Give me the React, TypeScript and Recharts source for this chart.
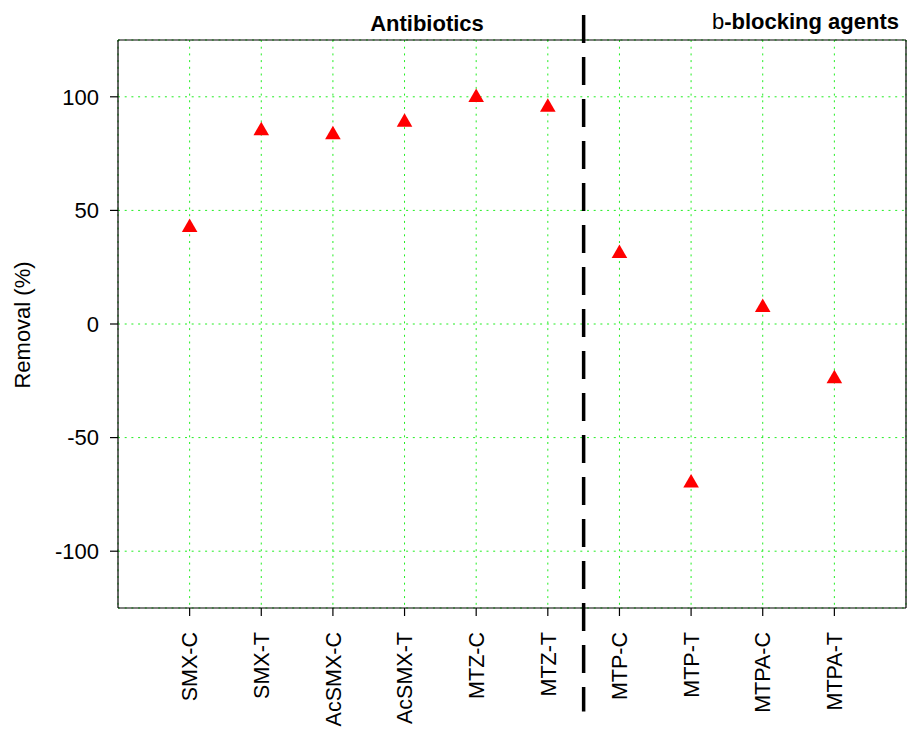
import React from 'react';
import { ScatterChart, Scatter, XAxis, YAxis, CartesianGrid, ReferenceLine } from 'recharts';

const categories = ['SMX-C', 'SMX-T', 'AcSMX-C', 'AcSMX-T', 'MTZ-C', 'MTZ-T', 'MTP-C', 'MTP-T', 'MTPA-C', 'MTPA-T'];
const removal = [42.5, 85.1, 83.3, 88.8, 99.7, 95.4, 31.0, -70.0, 7.3, -24.1];
const yTicks = [-100, -50, 0, 50, 100];
const xTicks = categories.map((_, i) => i + 1);

const data = categories.map((c, i) => ({ x: i + 1, y: removal[i], name: c }));

const FONT = '"Liberation Sans", Arial, Helvetica, sans-serif';

const Triangle = (props: any) => {
  const { cx, cy } = props;
  if (cx == null || cy == null) return null;
  const r = 9;
  const hw = 7.8;
  const pts = `${cx},${cy - r} ${cx + hw},${cy + r / 2} ${cx - hw},${cy + r / 2}`;
  return <polygon points={pts} fill="#ff0000" stroke="none" />;
};

const XTick = (props: any) => {
  const { x, y, payload } = props;
  const label = categories[payload.value - 1] ?? '';
  return (
    <text
      x={x}
      y={y}
      transform={`rotate(-90, ${x}, ${y})`}
      textAnchor="end"
      dy="0.36em"
      fontSize={21.5}
      fontFamily={FONT}
      fill="#000"
    >
      {label}
    </text>
  );
};

export default function App() {
  return (
    <div style={{ position: 'fixed', left: 0, top: 0, width: 907, height: 729, background: '#fff' }}>
      <ScatterChart width={907} height={729} margin={{ top: 40, right: 1, bottom: 0, left: 0 }}>
        <CartesianGrid stroke="#22ee22" strokeDasharray="2 4.7" strokeWidth={1} />
        <XAxis
          type="number"
          dataKey="x"
          domain={[0, 11]}
          ticks={xTicks}
          interval={0}
          allowDataOverflow
          height={121}
          tickSize={8}
          tickMargin={16}
          tick={<XTick />}
          axisLine={{ stroke: '#000', strokeWidth: 1.2 }}
          tickLine={{ stroke: '#000', strokeWidth: 1.2 }}
        />
        <YAxis
          type="number"
          dataKey="y"
          domain={[-125, 125]}
          ticks={yTicks}
          interval={0}
          allowDataOverflow
          width={118}
          tickSize={8}
          tickMargin={11}
          tick={{ fontSize: 22, fontFamily: FONT, fill: '#000' }}
          axisLine={{ stroke: '#000', strokeWidth: 1.2 }}
          tickLine={{ stroke: '#000', strokeWidth: 1.2 }}
        />
        <ReferenceLine y={125} stroke="#000" strokeWidth={1.2} />
        <ReferenceLine x={11} stroke="#000" strokeWidth={1.2} />
        <ReferenceLine
          segment={[{ x: 6.5, y: 136 }, { x: 6.5, y: -170.6 }]}
          ifOverflow="visible"
          stroke="#000"
          strokeWidth={3.5}
          strokeDasharray="28 14"
        />
        <Scatter data={data} dataKey="y" shape={<Triangle />} isAnimationActive={false} />
      </ScatterChart>
      <svg width={907} height={729} style={{ position: 'absolute', left: 0, top: 0, pointerEvents: 'none' }}>
        <text x={427} y={31} textAnchor="middle" fontSize={22} fontWeight="bold" fontFamily={FONT} fill="#000">
          Antibiotics
        </text>
        <text x={899} y={28.5} textAnchor="end" fontSize={22} fontFamily={FONT} fill="#000">
          <tspan>b</tspan>
          <tspan fontWeight="bold">-blocking agents</tspan>
        </text>
        <text
          x={30}
          y={325}
          transform="rotate(-90, 30, 325)"
          textAnchor="middle"
          fontSize={22}
          fontFamily={FONT}
          fill="#000"
        >
          Removal (%)
        </text>
      </svg>
    </div>
  );
}
